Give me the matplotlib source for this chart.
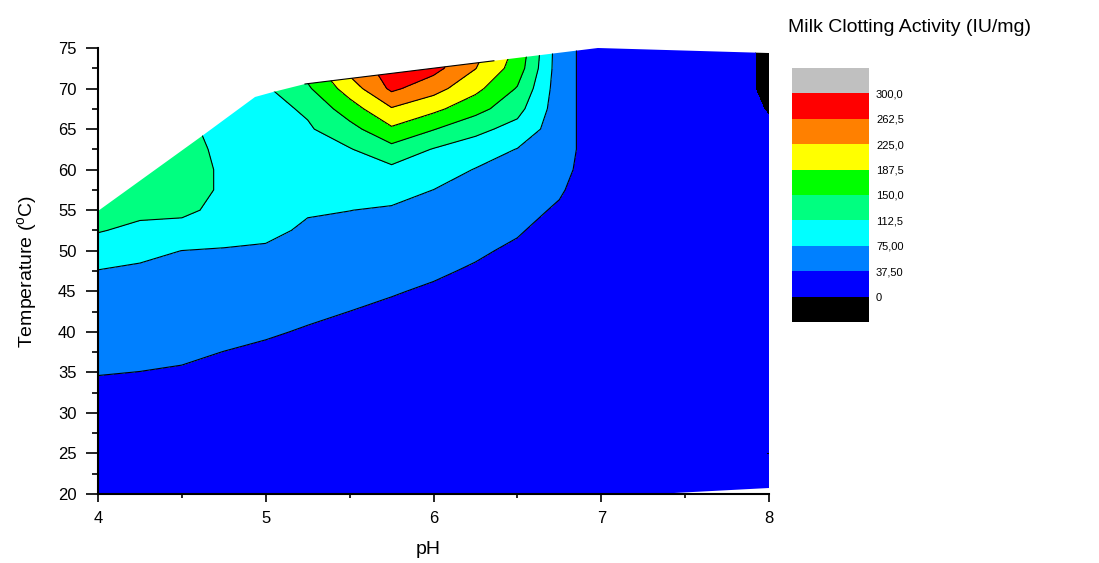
import numpy as np
import matplotlib
matplotlib.use('Agg')
import matplotlib.pyplot as plt
from matplotlib.colors import ListedColormap
from matplotlib.patches import Polygon

plt.rcParams['font.family'] = ['Liberation Sans', 'DejaVu Sans']
plt.rcParams['mathtext.fontset'] = 'custom'
plt.rcParams['mathtext.rm'] = 'Liberation Sans'
plt.rcParams['mathtext.default'] = 'regular'

# ---- data ----
ph = [4.0, 4.25, 4.5, 4.75, 5.0, 5.25, 5.5, 5.75, 6.0, 6.25, 6.5, 6.75, 7.0, 7.5, 8.0]
temp = [20, 25, 30, 32.5, 35, 37.5, 40, 42.5, 45, 47.5, 50, 52.5, 55, 57.5, 60,
        62.5, 65, 67.5, 70, 72.5, 75]

act_ph400 = [5, 10.4, 24.5, 31.6, 38.6, 45.7, 52.7, 59.8, 66.8, 73.9, 93.3, 114.9, 135, 140, 145, 145, 145, 145, 145, 145, 145]
act_ph425 = [5, 10.6, 23.9, 30.6, 37.2, 43.9, 50.5, 57.2, 63.8, 70.5, 82.0, 103.8, 121.5, 128, 132, 135, 135, 135, 135, 135, 135]
act_ph450 = [5, 8.5, 21.8, 28.5, 35.1, 41.8, 48.4, 55.1, 61.7, 68.4, 74.8, 96.8, 122, 136, 136, 125, 118, 118, 118, 118, 118]
act_ph475 = [5, 5, 15.6, 22.8, 30.0, 37.2, 44.4, 51.6, 58.7, 66.1, 73.3, 85, 100, 105, 105, 105, 105, 105, 105, 105, 105]
act_ph500 = [5, 5, 10.1, 17.7, 25.3, 32.9, 40.5, 48.2, 55.8, 63.4, 71.0, 82, 88, 92, 94, 96, 98, 100, 108, 115, 120]
act_ph525 = [5, 5, 7.0, 14.1, 21.1, 28.2, 35.2, 42.3, 49.3, 56.4, 63.4, 70.5, 77.7, 85.3, 92.8, 100.4, 108.0, 118, 144.5, 165, 180]
act_ph550 = [5, 5, 5, 7.3, 14.9, 22.4, 29.95, 37.4, 45.1, 52.6, 60.2, 67.7, 75.3, 87.0, 98.6, 110.2, 136.7, 170.2, 204.9, 238, 260]
act_ph575 = [5, 5, 5, 5, 7.7, 15.7, 23.7, 31.7, 39.7, 47.8, 55.8, 63.8, 71.8, 86.0, 104.4, 137.5, 182.1, 221.9, 270, 280, 285]
act_ph600 = [5, 5, 5, 5, 5, 8.6, 16.9, 25.2, 33.5, 41.8, 50.1, 58.4, 66.7, 74.8, 92.7, 110.4, 151.8, 196.9, 239.4, 275, 285]
act_ph625 = [5, 5, 5, 5, 5, 5, 10.4, 18.3, 26.2, 34.0, 41.9, 49.8, 57.7, 65.5, 73.4, 94.2, 122.7, 163.5, 197.7, 226.1, 240]
act_ph650 = [5, 5, 5, 5, 5, 5, 5, 7.3, 15.6, 23.9, 32.2, 40.5, 48.8, 57.1, 65.4, 73.7, 99.6, 125.0, 147.3, 170, 180]
act_ph675 = [5, 5, 5, 5, 5, 5, 5, 5, 5, 7.6, 16.1, 24.6, 33.1, 41.6, 50, 55, 55, 55, 55, 55, 55]
act_ph700 = [12, 12, 12, 12, 12, 12, 12, 12, 12, 12, 12, 12, 12, 12, 12, 12, 12, 12, 12, 12, 12]
act_ph750 = [15, 15, 15, 15, 15, 15, 15, 15, 15, 15, 15, 15, 15, 15, 15, 15, 15, 15, 15, 15, 15]
act_ph800 = [10, -0.5, 10, 10, 10, 10, 10, 10, 10, 10, 10, 10, 10, 10, 10, 10, 2, -1, -3, -3, -3]

# outline of the measured domain
bound_ph = [4.0, 4.62, 4.936, 5.043, 5.234, 6.98, 8.0, 8.0, 7.32, 4.0]
bound_t = [54.9, 64.15, 68.96, 69.57, 70.56, 75.0, 74.38, 20.74, 20.0, 20.0]

levels = [0, 37.5, 75, 112.5, 150, 187.5, 225, 262.5, 300]
level_labels = ['0', '37,50', '75,00', '112,5', '150,0', '187,5', '225,0', '262,5', '300,0']
fill_colors = ['#0000FF', '#0080FF', '#00FFFF', '#00FF80', '#00FF00',
               '#FFFF00', '#FF8000', '#FF0000']
under_color = '#000000'
over_color = '#C0C0C0'

# ---- figure ----
fig = plt.figure(figsize=(10.99, 5.63), dpi=100)
ax = fig.add_axes([98 / 1099, 69 / 563, 671 / 1099, 446 / 563])

X, Y = np.meshgrid(ph, temp)
Z = np.column_stack([act_ph400, act_ph425, act_ph450, act_ph475, act_ph500,
                     act_ph525, act_ph550, act_ph575, act_ph600, act_ph625,
                     act_ph650, act_ph675, act_ph700, act_ph750, act_ph800])

cmap = ListedColormap(fill_colors)
cmap.set_under(under_color)
cmap.set_over(over_color)

cf = ax.contourf(X, Y, Z, levels=levels, cmap=cmap, extend='both')
cl = ax.contour(X, Y, Z, levels=levels[1:-1], colors='k', linewidths=0.8)

poly = Polygon(np.column_stack([bound_ph, bound_t]), closed=True,
               facecolor='none', edgecolor='none', transform=ax.transData)
ax.add_patch(poly)
cf.set_clip_path(poly)
cl.set_clip_path(poly)

# dark edge along the upper boundary over the warm region
edge_ph = np.array([bound_ph[4], 6.36])
edge_t = np.interp(edge_ph, [bound_ph[4], bound_ph[5]], [bound_t[4], bound_t[5]])
ax.plot(edge_ph, edge_t, color='k', lw=0.8)

ax.set_xlim(4, 8)
ax.set_ylim(20, 75)
ax.set_xticks([4, 5, 6, 7, 8])
ax.set_xticks([4.5, 5.5, 6.5, 7.5], minor=True)
ax.set_yticks(np.arange(20, 76, 5))
ax.set_yticks(np.arange(22.5, 75, 5), minor=True)
ax.tick_params(axis='x', which='major', length=6, width=1.2, labelsize=12, pad=6)
ax.tick_params(axis='x', which='minor', length=3, width=1.2)
ax.tick_params(axis='y', which='major', length=8.5, width=1.2, labelsize=12, pad=7)
ax.tick_params(axis='y', which='minor', length=4.3, width=1.2)
for s in ['top', 'right']:
    ax.spines[s].set_visible(False)
for s in ['left', 'bottom']:
    ax.spines[s].set_linewidth(1.5)

ax.set_xlabel('pH', fontsize=14)
ax.xaxis.set_label_coords(0.492, -0.105)
ax.set_ylabel('Temperature ($^{o}$C)', fontsize=14)
ax.yaxis.set_label_coords(-0.088, 0.5)

cax = fig.add_axes([792 / 1099, (563 - 322) / 563, 77 / 1099, 254 / 563])
cb = fig.colorbar(cf, cax=cax, extendrect=True, extendfrac=0.125)
cb.set_ticks(levels)
cb.set_ticklabels(level_labels)
cb.outline.set_visible(False)
cax.tick_params(length=0, labelsize=8, pad=5)

fig.text(0.828, 0.952, 'Milk Clotting Activity (IU/mg)', ha='center', va='center',
         fontsize=14)

fig.savefig('out.png', dpi=100)
